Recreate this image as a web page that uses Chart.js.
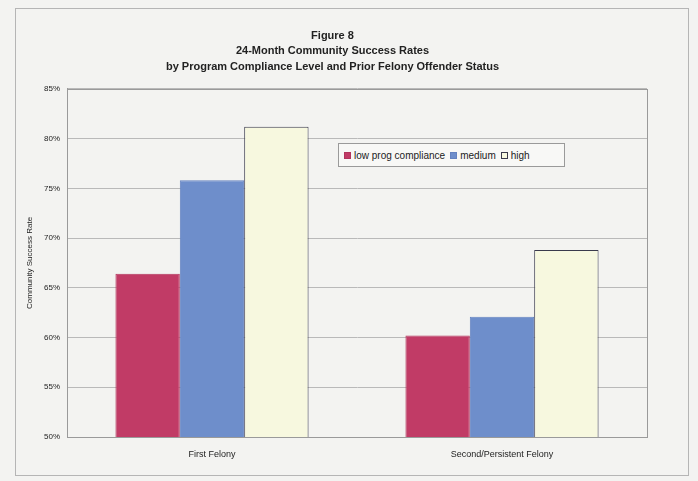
<!DOCTYPE html>
<html>
<head>
<meta charset="utf-8">
<script src="https://cdn.jsdelivr.net/npm/chart.js@4.4.1/dist/chart.umd.min.js"></script>
<style>
  body { margin: 0; background: #f3f3f1; }
  #wrap { position: relative; width: 698px; height: 481px; }
  #frame { position: absolute; left: 15px; top: 8px; width: 674px; height: 468px; border: 1px solid #b5b5b5; box-sizing: border-box; }
  #grafico { position: absolute; left: 0; top: 0; }
  #legenda {
    position: absolute; left: 338px; top: 143px; width: 227px; height: 24px;
    border: 1px solid #9a9a9a; background: #f8f8f6; box-sizing: border-box;
    font: 10px "Liberation Sans", Arial, sans-serif; color: #222;
    display: flex; align-items: center; padding-left: 5px; white-space: nowrap;
  }
  #legenda span.box { display: inline-block; width: 7px; height: 7px; margin-right: 3px; box-sizing: border-box; }
  #legenda span.item { margin-right: 5px; display: inline-flex; align-items: center; }
</style>
</head>
<body>
<div id="wrap">
  <div id="frame"></div>
  <canvas id="grafico" width="698" height="481"></canvas>
  <div id="legenda"></div>
</div>
<script>
// dados do gráfico
const categorias = ['First Felony', 'Second/Persistent Felony'];
const nomesSeries = ['low prog compliance', 'medium', 'high'];
const taxaBaixa = [66.4, 60.2];
const taxaMedia = [75.8, 62.1];
const taxaAlta = [81.2, 68.8];
const ticksY = [50, 55, 60, 65, 70, 75, 80, 85];

const coresFundo = ['#c13b66', '#6e8ecb', '#f7f8df'];
const coresBorda = ['#b2345c', '#6482c0', '#3a3a4c'];

const fonte = '"Liberation Sans", Arial, sans-serif';

const valores = [taxaBaixa, taxaMedia, taxaAlta];

const grafico = new Chart(document.getElementById('grafico'), {
    type: 'bar',
    data: {
        labels: categorias,
        datasets: nomesSeries.map((nome, i) => ({
            label: nome,
            data: valores[i],
            backgroundColor: coresFundo[i],
            borderColor: coresBorda[i],
            borderWidth: 1,
            categoryPercentage: 0.666,
            barPercentage: 1
        }))
    },
    options: {
        responsive: false,
        animation: false,
        layout: {
            padding: { left: 18, right: 51, top: 22, bottom: 14 }
        },
        plugins: {
            legend: { display: false },
            tooltip: { enabled: false },
            title: {
                display: true,
                text: ['Figure 8', '24-Month Community Success Rates', 'by Program Compliance Level and Prior Felony Offender Status'],
                color: '#222',
                font: { family: fonte, size: 11, weight: 'bold', lineHeight: 1.42 },
                padding: { top: 6, bottom: 14 }
            }
        },
        scales: {
            x: {
                grid: { display: false },
                border: { color: '#9a9a9a' },
                ticks: {
                    color: '#222',
                    font: { family: fonte, size: 9 },
                    padding: 4
                },
                afterFit: function(escala) { escala.height = 30; }
            },
            y: {
                min: 50,
                max: 85,
                afterBuildTicks: function(escala) {
                    escala.ticks = ticksY.map(v => ({ value: v }));
                },
                ticks: {
                    color: '#222',
                    font: { family: fonte, size: 8 },
                    padding: 7,
                    callback: function(valor) { return valor + '%'; }
                },
                grid: { color: '#b9b9b9', drawTicks: false },
                border: { color: '#9a9a9a' },
                title: {
                    display: true,
                    text: 'Community Success Rate',
                    color: '#222',
                    font: { family: fonte, size: 8 },
                    padding: { top: 7, bottom: 0 }
                },
                afterFit: function(escala) { escala.width = 49; }
            }
        }
    },
    plugins: [{
        id: 'bordaPlot',
        afterDraw(chart) {
            const a = chart.chartArea;
            const c = chart.ctx;
            c.save();
            c.strokeStyle = '#9a9a9a';
            c.lineWidth = 1;
            c.strokeRect(Math.round(a.left) + 0.5, Math.round(a.top) + 0.5, Math.round(a.width), Math.round(a.height));
            c.restore();
        }
    }]
});

// legenda em HTML dentro da área do gráfico
const legenda = document.getElementById('legenda');
grafico.data.datasets.forEach(ds => {
    const item = document.createElement('span');
    item.className = 'item';
    const caixa = document.createElement('span');
    caixa.className = 'box';
    caixa.style.background = ds.backgroundColor;
    caixa.style.border = '1px solid ' + ds.borderColor;
    item.appendChild(caixa);
    item.appendChild(document.createTextNode(ds.label));
    legenda.appendChild(item);
});
</script>
</body>
</html>
